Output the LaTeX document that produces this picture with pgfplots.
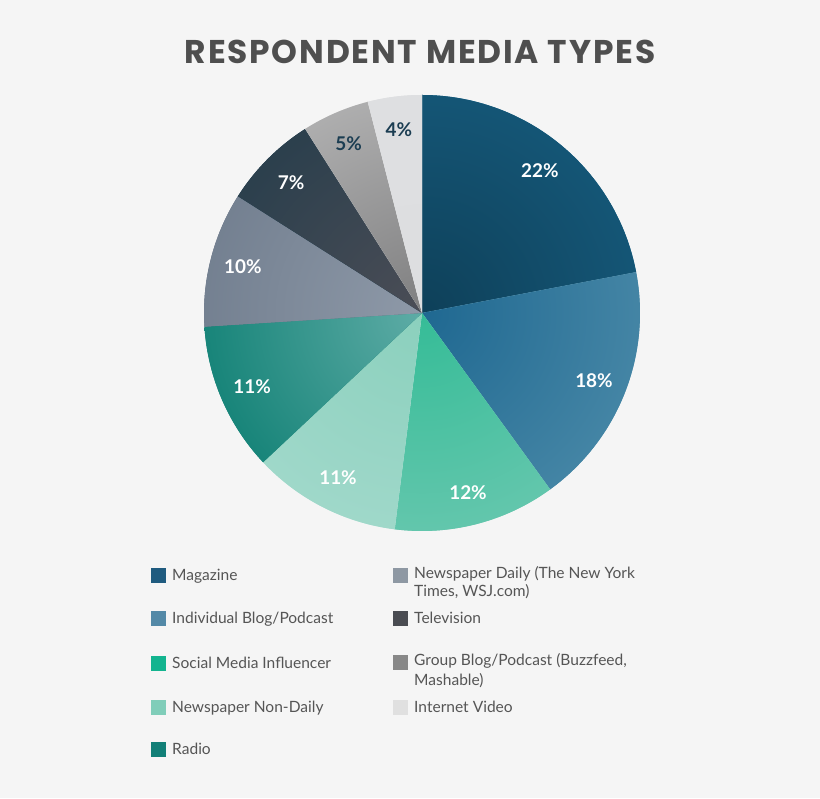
\documentclass[border=0pt]{standalone}
\usepackage{fontspec}
\setmainfont{Lato}
\newfontfamily\titlefont{Poppins}[LetterSpace=5.5]
\usepackage{pgfplots}
\usepackage{pgfplotstable}
\pgfplotsset{compat=1.18}

\definecolor{bg}{HTML}{F5F5F5}
\definecolor{titlecol}{HTML}{4F4F4F}
\definecolor{legtext}{HTML}{555555}
% slice gradients: in = near centre, out = rim
\definecolor{in0}{HTML}{0E4059}\definecolor{out0}{HTML}{1B6B92}
\definecolor{in1}{HTML}{1F6891}\definecolor{out1}{HTML}{68A1B8}
\definecolor{in2}{HTML}{35BC97}\definecolor{out2}{HTML}{80CDBA}
\definecolor{in3}{HTML}{8BD0BD}\definecolor{out3}{HTML}{B3E0D6}
\definecolor{in4}{HTML}{5EACA6}\definecolor{out4}{HTML}{0E7F73}
\definecolor{in5}{HTML}{8E99A8}\definecolor{out5}{HTML}{5A687A}
\definecolor{in6}{HTML}{4B4D56}\definecolor{out6}{HTML}{0C3244}
\definecolor{in7}{HTML}{7F7F80}\definecolor{out7}{HTML}{DCDCDC}
\definecolor{in8}{HTML}{DDDEE0}\definecolor{out8}{HTML}{DFE0E2}
\definecolor{lab0}{HTML}{FFFFFF}\colorlet{lab1}{lab0}\colorlet{lab2}{lab0}
\colorlet{lab3}{lab0}\colorlet{lab4}{lab0}\colorlet{lab5}{lab0}\colorlet{lab6}{lab0}
\definecolor{lab7}{HTML}{1B3D52}\colorlet{lab8}{lab7}
% legend swatches
\definecolor{sw0}{HTML}{1F5B7F}
\definecolor{sw1}{HTML}{5389A7}
\definecolor{sw2}{HTML}{13B48F}
\definecolor{sw3}{HTML}{80CDB9}
\definecolor{sw4}{HTML}{127F77}
\definecolor{sw5}{HTML}{8E98A3}
\definecolor{sw6}{HTML}{4A4C52}
\definecolor{sw7}{HTML}{888888}
\definecolor{sw8}{HTML}{E0E0E0}

\pgfplotstableread[col sep=comma]{
name,value
Magazine,22
Individual Blog/Podcast,18
Social Media Influencer,12
Newspaper Non-Daily,11
Radio,11
Newspaper Daily,10
Television,7
Group Blog/Podcast,5
Internet Video,4
}\piedata

\def\cx{422}
\def\cy{485}
\def\rr{218}
% how far out (in bp) each slice's gradient reaches its rim colour, doubled
\newcommand\gradext[1]{\ifcase#1 436\or 436\or 360\or 436\or 250\or 436\or 436\or 436\or 436\fi}

\newcommand\legsq[3]{% x, y centre, colour
  \fill[#3] (axis cs:#1-7.5,#2-7.5) rectangle (axis cs:#1+7.5,#2+7.5);}
\newcommand\legtxt[3]{% x, y centre, text
  \node[anchor=base west, inner sep=0pt, text=legtext,
        font=\fontsize{15.6}{15.6}\selectfont] at (axis cs:#1,#2-5.5) {#3};}

\begin{document}
\begin{tikzpicture}
\begin{axis}[
  width=820bp, height=798bp, scale only axis,
  xmin=0, xmax=820, ymin=0, ymax=798,
  hide axis, clip=false,
]
\addplot[draw=none, forget plot] coordinates {(0,0) (820,798)};
\pgfplotsextra{%
  \fill[bg] (axis cs:0,0) rectangle (axis cs:820,798);
  \def\start{90}%
  \pgfplotsforeachungrouped \i in {0,...,8}{%
    \pgfplotstablegetelem{\i}{value}\of\piedata
    \let\v\pgfplotsretval
    \pgfmathsetmacro\stop{\start-3.6*\v}%
    \pgfmathsetmacro\mid{(\start+\stop)/2}%
    \edef\ext{\gradext{\i}}%
    \begin{scope}
      \clip (axis cs:\cx,\cy) -- (axis cs:{\cx+\rr*cos(\start)},{\cy+\rr*sin(\start)})
        arc[start angle=\start, end angle=\stop, radius=\rr bp] -- cycle;
      \fill[out\i] (axis cs:\cx,\cy) circle[radius=\rr bp+2bp];
      \shade[inner color=in\i, outer color=out\i]
        (axis cs:\cx,\cy) circle[radius=\ext bp];
    \end{scope}
    \node[text=lab\i, font=\bfseries\fontsize{19}{19}\selectfont]
      at (axis cs:{\cx+185*cos(\mid)},{\cy+185*sin(\mid)}) {\v\%};
    \global\let\start\stop
  }%
  \node[text=titlecol, font=\titlefont\bfseries\fontsize{33}{33}\selectfont]
    at (axis cs:420,746) {RESPONDENT MEDIA TYPES};
  % legend, left column
  \legsq{158.5}{223}{sw0}\legtxt{172}{223}{Magazine}
  \legsq{158.5}{180}{sw1}\legtxt{172}{180}{Individual Blog/Podcast}
  \legsq{158.5}{135}{sw2}\legtxt{172}{135}{Social Media Influencer}
  \legsq{158.5}{91}{sw3}\legtxt{172}{91}{Newspaper Non-Daily}
  \legsq{158.5}{49}{sw4}\legtxt{172}{49}{Radio}
  % legend, right column
  \legsq{400.5}{223}{sw5}\legtxt{414}{225}{Newspaper Daily (The New York}
  \legtxt{414}{207}{Times, WSJ.com)}
  \legsq{400.5}{180}{sw6}\legtxt{414}{180}{Television}
  \legsq{400.5}{136}{sw7}\legtxt{414}{138}{Group Blog/Podcast (Buzzfeed,}
  \legtxt{414}{118}{Mashable)}
  \legsq{400.5}{91}{sw8}\legtxt{414}{91}{Internet Video}
}
\end{axis}
\end{tikzpicture}
\end{document}
